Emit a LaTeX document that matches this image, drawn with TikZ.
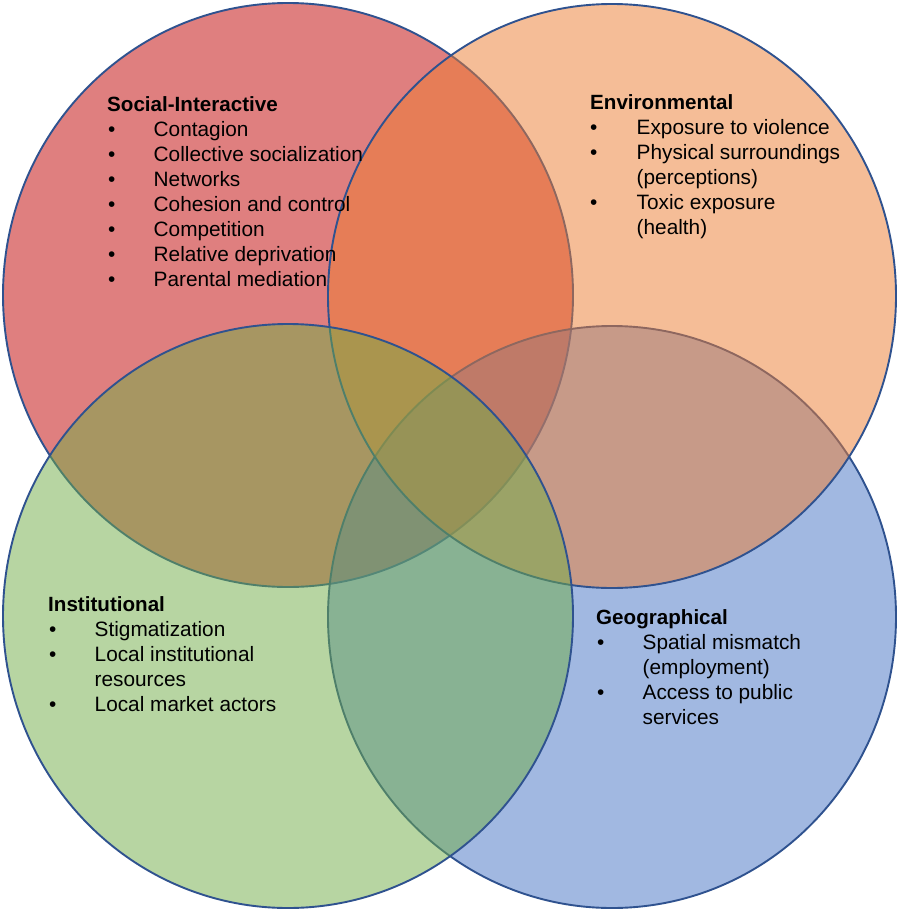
\documentclass[tikz,border=0pt]{standalone}
\usepackage{fontspec}
\setmainfont{Liberation Sans}
\definecolor{cred}{HTML}{C00000}
\definecolor{corange}{HTML}{ED7D31}
\definecolor{cblue}{HTML}{4472C4}
\definecolor{cgreen}{HTML}{70AD47}
\definecolor{edgeblue}{HTML}{2F528F}
\begin{document}
\begin{tikzpicture}[x=1pt,y=-1pt,
  venn/.style={draw=edgeblue, line width=1.9pt, fill opacity=0.5, draw opacity=1},
  txt/.style={anchor=base west, inner sep=0pt, font=\fontsize{20.8}{25}\selectfont},
  head/.style={txt, font=\fontsize{20.6}{25}\selectfont\bfseries},
  bul/.style={txt}]
\useasboundingbox (0,0) rectangle (897,910);
\fill[white] (0,0) rectangle (897,910);
% circles
\draw[venn, fill=cred] (288,295) ellipse [x radius=285pt, y radius=292pt];
\draw[venn, fill=cblue] (612,617) ellipse [x radius=284pt, y radius=291pt];
\draw[venn, fill=corange] (612,296) ellipse [x radius=284pt, y radius=292pt];
\draw[venn, fill=cgreen] (288,616) ellipse [x radius=285pt, y radius=292pt];
% Social-Interactive
\node[head] (sh) at (107,111) {Social-Interactive};
\node[bul] (sb1) at (108,136) {\textbullet};
\node[txt] (s1) at (153.5,136) {Contagion};
\node[bul] (sb2) at (108,161) {\textbullet};
\node[txt] (s2) at (153.5,161) {Collective socialization};
\node[bul] (sb3) at (108,186) {\textbullet};
\node[txt] (s3) at (153.5,186) {Networks};
\node[bul] (sb4) at (108,211) {\textbullet};
\node[txt] (s4) at (153.5,211) {Cohesion and control};
\node[bul] (sb5) at (108,236) {\textbullet};
\node[txt] (s5) at (153.5,236) {Competition};
\node[bul] (sb6) at (108,261) {\textbullet};
\node[txt] (s6) at (153.5,261) {Relative deprivation};
\node[bul] (sb7) at (108,286) {\textbullet};
\node[txt] (s7) at (153.5,286) {Parental mediation};
% Environmental
\node[head] (eh) at (590,109) {Environmental};
\node[bul] (eb1) at (590,134) {\textbullet};
\node[txt] (e1) at (636.5,134) {Exposure to violence};
\node[bul] (eb2) at (590,159) {\textbullet};
\node[txt] (e2) at (636.5,159) {Physical surroundings};
\node[txt] (e2b) at (636.5,184) {(perceptions)};
\node[bul] (eb3) at (590,209) {\textbullet};
\node[txt] (e3) at (636.5,209) {Toxic exposure};
\node[txt] (e3b) at (636.5,234) {(health)};
% Institutional
\node[head] (ih) at (48,611) {Institutional};
\node[bul] (ib1) at (49,636) {\textbullet};
\node[txt] (i1) at (94.5,636) {Stigmatization};
\node[bul] (ib2) at (49,661) {\textbullet};
\node[txt] (i2) at (94.5,661) {Local institutional};
\node[txt] (i2b) at (94.5,686) {resources};
\node[bul] (ib3) at (49,711) {\textbullet};
\node[txt] (i3) at (94.5,711) {Local market actors};
% Geographical
\node[head] (gh) at (596,624) {Geographical};
\node[bul] (gb1) at (597,649) {\textbullet};
\node[txt] (g1) at (642.5,649) {Spatial mismatch};
\node[txt] (g1b) at (642.5,674) {(employment)};
\node[bul] (gb2) at (597,699) {\textbullet};
\node[txt] (g2) at (642.5,699) {Access to public};
\node[txt] (g2b) at (642.5,724) {services};
\end{tikzpicture}
\end{document}
